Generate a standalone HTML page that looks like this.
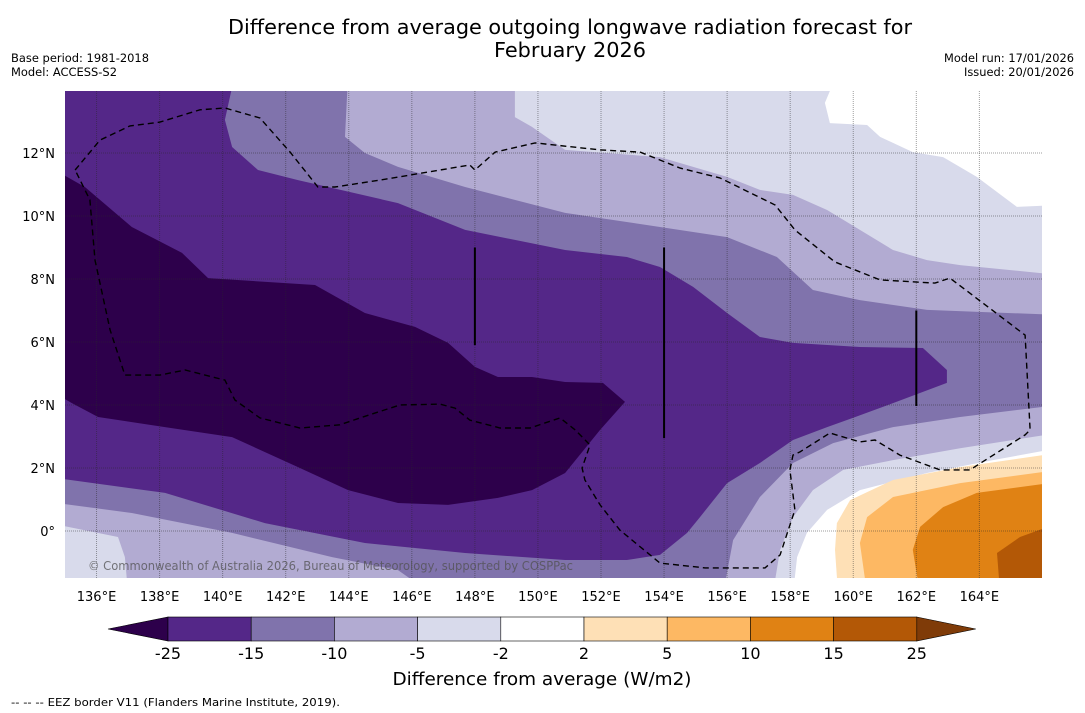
<!DOCTYPE html>
<html><head><meta charset="utf-8">
<style>
body{margin:0;width:1085px;height:713px;background:#fff;font-family:"DejaVu Sans","Liberation Sans",sans-serif;overflow:hidden}
svg{position:absolute;left:0;top:0}
</style></head>
<body>
<svg id="chart" width="1085" height="713" viewBox="0 0 1085 713" xmlns="http://www.w3.org/2000/svg" font-family="DejaVu Sans, Liberation Sans, sans-serif">
<text x="570" y="34" font-size="20" text-anchor="middle" textLength="684" lengthAdjust="spacingAndGlyphs">Difference from average outgoing longwave radiation forecast for</text>
<text x="570" y="57" font-size="20" text-anchor="middle" textLength="152" lengthAdjust="spacingAndGlyphs">February 2026</text>
<text x="11" y="62" font-size="11.5" textLength="138" lengthAdjust="spacingAndGlyphs">Base period: 1981-2018</text>
<text x="11" y="76" font-size="11.5" textLength="106" lengthAdjust="spacingAndGlyphs">Model: ACCESS-S2</text>
<text x="1074" y="62" font-size="11.5" text-anchor="end" textLength="130" lengthAdjust="spacingAndGlyphs">Model run: 17/01/2026</text>
<text x="1074" y="76" font-size="11.5" text-anchor="end" textLength="110" lengthAdjust="spacingAndGlyphs">Issued: 20/01/2026</text>
<defs><clipPath id="mapclip"><rect x="65" y="91" width="977" height="487"/></clipPath></defs>
<g id="map" clip-path="url(#mapclip)"></g>
<g id="axes"></g>
<g id="cbar"></g>
<text x="542" y="685" font-size="18" text-anchor="middle" textLength="299" lengthAdjust="spacingAndGlyphs">Difference from average (W/m2)</text>
<text x="11" y="706" font-size="11" textLength="329" lengthAdjust="spacingAndGlyphs">--  --  -- EEZ border V11 (Flanders Marine Institute, 2019).</text>
</svg>
<script>
const lonTicks=[136,138,140,142,144,146,148,150,152,154,156,158,160,162,164];
const latTicks=[0,2,4,6,8,10,12];
const cbarLabels=["-25","-15","-10","-5","-2","2","5","10","15","25"];
const cbarColors=["#542788","#8073ac","#b2abd2","#d8daeb","#ffffff","#fee0b6","#fdb863","#e08214","#b35806"];
const cbarLow="#2d004b", cbarHigh="#7f3b08";
const whiteTop=[[159.48,14.5],[159.10,13.59],[159.26,12.95],[160.44,12.89],[160.85,12.51],[161.89,12.03],[162.85,11.87],[163.92,11.24],[165.19,10.29],[166.5,10.35],[166.5,14.5]];
const level2=[[149.27,14.5],[149.27,13.14],[149.81,12.83],[150.86,12.10],[153.87,11.87],[156.0,11.24],[157.04,10.83],[158.09,10.67],[159.17,10.19],[160.21,9.56],[161.26,8.92],[162.34,8.60],[163.39,8.44],[166.5,8.13],[166.5,3.11],[163.39,2.63],[161.26,2.25],[159.68,1.94],[158.72,1.30],[158.09,0.44],[157.68,-0.60],[157.45,-2],[137.0,-2],[136.90,-0.83],[136.68,-0.19],[134.5,0.25],[134.5,14.5]];
const level3=[[143.98,14.5],[143.88,12.51],[144.51,12.0],[145.56,11.56],[147.69,10.92],[150.86,10.10],[153.87,9.65],[156.0,9.33],[157.58,8.70],[158.72,7.65],[160.21,7.33],[162.34,7.02],[166.5,6.86],[166.5,4.0],[163.39,3.62],[161.26,3.30],[159.36,2.79],[158.09,2.16],[157.04,1.08],[156.19,-0.29],[155.87,-2],[146.64,-2],[145.56,-1.24],[143.47,-0.83],[140.30,-0.06],[137.12,0.57],[134.5,0.92],[134.5,14.5]];
const level4=[[134.5,14.5],[140.39,14.5],[140.07,13.05],[140.30,12.19],[141.12,11.46],[142.39,11.14],[145.56,10.41],[147.69,9.56],[150.86,8.92],[152.82,8.70],[153.87,8.38],[154.92,7.75],[156.0,6.92],[157.04,6.16],[158.09,5.97],[160.21,5.84],[162.21,5.81],[162.97,5.11],[162.97,4.70],[161.26,4.06],[159.99,3.59],[159.17,3.30],[158.09,2.89],[157.04,2.16],[156.0,1.52],[155.14,0.44],[154.73,-0.06],[153.87,-0.76],[152.82,-0.92],[150.86,-0.92],[147.69,-0.70],[144.51,-0.38],[141.34,0.25],[138.17,1.21],[134.5,1.71]];
const level5=[[134.5,11.56],[135.63,10.92],[137.12,9.65],[138.71,8.83],[139.54,8.03],[142.93,7.81],[144.51,6.92],[146.10,6.48],[147.15,5.97],[148.0,5.21],[148.73,4.89],[149.81,4.89],[150.86,4.73],[152.06,4.70],[152.76,4.10],[151.97,3.21],[150.86,1.84],[149.81,1.30],[148.73,1.05],[147.15,0.83],[145.56,0.89],[143.98,1.30],[142.39,2.03],[140.30,2.98],[138.17,3.30],[136.05,3.62],[135.22,4.06],[134.5,4.48]];
const whiteBottom=[[166.5,2.63],[164.43,2.25],[162.34,1.84],[160.21,1.30],[159.17,0.67],[158.53,-0.06],[158.22,-0.83],[158.09,-2],[166.5,-2]];
const orange1=[[166.5,2.48],[163.39,2.03],[161.26,1.62],[159.90,0.98],[159.48,0.25],[159.42,-0.60],[159.52,-2],[166.5,-2]];
const orange2=[[166.5,1.94],[163.39,1.52],[161.26,1.08],[160.44,0.44],[160.21,-0.38],[160.44,-2],[166.5,-2]];
const orange3=[[166.5,1.56],[163.92,1.21],[162.85,0.76],[162.12,0.13],[161.89,-0.60],[162.12,-2],[166.5,-2]];
const orange4=[[166.5,0.25],[165.29,-0.19],[164.56,-0.70],[164.66,-2],[166.5,-2]];
const eez=[[135.32,11.46],[136.11,12.41],[137.06,12.86],[138.01,12.98],[139.28,13.37],[140.07,13.43],[141.18,13.11],[142.14,12.03],[143.02,10.92],[143.56,10.92],[144.99,11.14],[147.84,11.62],[148.0,11.46],[148.64,12.03],[149.91,12.32],[151.97,12.10],[153.24,12.03],[154.51,11.52],[155.77,11.21],[157.52,10.35],[158.15,9.56],[159.42,8.54],[160.85,7.97],[162.59,7.87],[163.07,8.03],[165.45,6.22],[165.61,3.21],[165.45,3.05],[163.70,1.94],[162.75,1.94],[161.48,2.41],[160.69,2.89],[160.21,2.83],[159.26,3.11],[158.31,2.51],[158.09,2.41],[157.99,1.94],[158.15,0.67],[157.68,-0.76],[157.20,-1.17],[155.30,-1.17],[153.87,-1.02],[152.60,0.03],[151.97,0.83],[151.49,1.62],[151.40,2.0],[151.65,2.73],[151.18,3.21],[150.70,3.59],[149.75,3.27],[148.80,3.27],[147.84,3.52],[147.37,3.90],[146.89,4.03],[145.62,4.0],[144.36,3.59],[143.72,3.37],[142.45,3.27],[141.18,3.59],[140.39,4.16],[140.07,4.79],[138.81,5.11],[138.01,4.95],[136.90,4.95],[136.43,6.38],[135.95,8.60],[135.79,10.51],[135.32,11.46]];
const meridianLines=[[148.0,9.0,5.9],[154.0,9.0,2.95],[162.0,7.0,3.97]];

const NS="http://www.w3.org/2000/svg";
const xS=lon=>65+(lon-135)*31.53;
const yS=lat=>531-lat*31.5;
function mk(tag,attrs,parent){const e=document.createElementNS(NS,tag);for(const k in attrs)e.setAttribute(k,attrs[k]);parent.appendChild(e);return e;}
const map=document.getElementById('map');
const pts=a=>a.map(p=>xS(p[0]).toFixed(1)+','+yS(p[1]).toFixed(1)).join(' ');
let bg=mk('rect',{x:65,y:91,width:977,height:487,fill:'#d8daeb'},map);


const layers=[[whiteTop,'#ffffff','contour-band-above-minus2-north'],[level2,'#b2abd2','contour-band-minus10-minus5'],[level3,'#8073ac','contour-band-minus15-minus10'],[level4,'#542788','contour-band-minus25-minus15'],[level5,'#2d004b','contour-band-below-minus25'],[whiteBottom,'#ffffff','contour-band-minus2-2'],[orange1,'#fee0b6','contour-band-2-5'],[orange2,'#fdb863','contour-band-5-10'],[orange3,'#e08214','contour-band-10-15'],[orange4,'#b35806','contour-band-15-25']];
layers.forEach(L=>{const p=mk('polygon',{points:pts(L[0]),fill:L[1]},map);

});
lonTicks.forEach(l=>{const g=mk('line',{x1:xS(l),x2:xS(l),y1:91,y2:578,stroke:'rgba(40,40,40,0.45)','stroke-width':1,'stroke-dasharray':'1,1'},map);

});
latTicks.forEach(l=>{const g=mk('line',{x1:65,x2:1042,y1:yS(l),y2:yS(l),stroke:'rgba(40,40,40,0.45)','stroke-width':1,'stroke-dasharray':'1,1'},map);

});
const ez=mk('polyline',{points:pts(eez),fill:'none',stroke:'#000','stroke-width':1.4,'stroke-dasharray':'6,4'},map);


meridianLines.forEach(m=>{const l=mk('line',{x1:xS(m[0]),x2:xS(m[0]),y1:yS(m[1]),y2:yS(m[2]),stroke:'#000','stroke-width':2},map);

});
const cp=mk('text',{x:88,y:570,'font-size':12,fill:'rgba(80,80,80,0.75)',textLength:485,lengthAdjust:'spacingAndGlyphs'},map);
cp.textContent='© Commonwealth of Australia 2026, Bureau of Meteorology, supported by COSPPac';


const axes=document.getElementById('axes');
lonTicks.forEach(l=>{const t=mk('text',{x:xS(l),y:601,'font-size':13,'text-anchor':'middle'},axes);t.textContent=l+'°E';

});
latTicks.forEach(l=>{const t=mk('text',{x:55,y:yS(l)+5,'font-size':13,'text-anchor':'end'},axes);t.textContent=l===0?'0°':l+'°N';

});
const cb=document.getElementById('cbar');
const cx0=168,cw=83.2,cy=617,ch=24;
const lt=mk('polygon',{points:`108,${cy+ch/2} ${cx0},${cy} ${cx0},${cy+ch}`,fill:cbarLow,stroke:'#000','stroke-width':0.6},cb);


cbarColors.forEach((c,i)=>{const r=mk('rect',{x:cx0+i*cw,y:cy,width:cw,height:ch,fill:c,stroke:'#000','stroke-width':0.6},cb);

});
const xe=cx0+cbarColors.length*cw;
const rt=mk('polygon',{points:`${xe},${cy} ${xe+59},${cy+ch/2} ${xe},${cy+ch}`,fill:cbarHigh,stroke:'#000','stroke-width':0.6},cb);


cbarLabels.forEach((s,i)=>{const t=mk('text',{x:cx0+i*cw,y:659,'font-size':16,'text-anchor':'middle'},cb);t.textContent=s;

});
</script>
</body></html>
